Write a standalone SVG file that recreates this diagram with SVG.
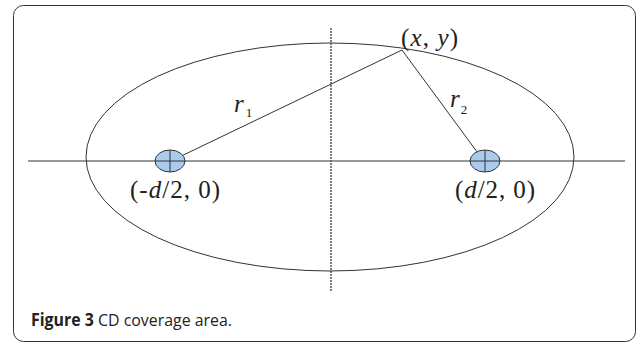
<svg xmlns="http://www.w3.org/2000/svg" width="637" height="342" viewBox="0 0 637 342">
<style>
.ln{stroke:#333;stroke-width:1;fill:none}
.dash{stroke:#555;stroke-width:1.5;stroke-dasharray:2 1;fill:none}
.foc{fill:#aacbeb;stroke:#333;stroke-width:1}
.m{font-family:"Liberation Serif","Times New Roman",serif;font-size:25px;fill:#222}
.i{font-style:italic}
.sub{font-size:13px}
.cap{font-family:"Open Sans","Liberation Sans",sans-serif;font-size:17px;fill:#222}
</style>
<rect x="13.5" y="5.5" width="622" height="336" rx="10" fill="#fff" stroke="#333" stroke-width="1"/>
<g id="axes">
<line class="ln" x1="28" y1="161" x2="625" y2="161"/>
<line class="dash" x1="331" y1="28" x2="331" y2="292"/>
</g>
<g id="ellipse"><ellipse class="ln" cx="330" cy="157" rx="244" ry="114"/></g>
<g id="connectors">
<line class="ln" x1="402" y1="50" x2="173" y2="160"/>
<line class="ln" x1="402" y1="50" x2="483" y2="160"/>
</g>
<g id="left-focus">
<ellipse class="foc" cx="170" cy="161" rx="15" ry="11"/>
<line class="ln" x1="170" y1="150" x2="170" y2="172"/>
<line class="ln" x1="155" y1="161" x2="185" y2="161"/>
<text class="m" x="130" y="198" textLength="90" lengthAdjust="spacing">(-<tspan class="i">d</tspan>/2, 0)</text>
</g>
<g id="right-focus">
<ellipse class="foc" cx="485" cy="161" rx="15" ry="11"/>
<line class="ln" x1="485" y1="150" x2="485" y2="172"/>
<line class="ln" x1="470" y1="161" x2="500" y2="161"/>
<text class="m" x="455" y="198" textLength="80" lengthAdjust="spacing">(<tspan class="i">d</tspan>/2, 0)</text>
</g>
<g id="point">
<text class="m" x="401" y="46" font-size="22" textLength="57" lengthAdjust="spacing">(<tspan class="i">x</tspan>, <tspan class="i">y</tspan>)</text>
</g>
<g id="labels">
<text class="m" x="234" y="112" font-size="24"><tspan class="i">r</tspan><tspan class="sub" dx="2" dy="5">1</tspan></text>
<text class="m" x="450" y="107" font-size="24"><tspan class="i">r</tspan><tspan class="sub" dx="1" dy="7">2</tspan></text>
</g>
<g id="caption">
<text class="cap" x="31" y="326" textLength="201" lengthAdjust="spacingAndGlyphs"><tspan font-weight="bold">Figure 3</tspan> CD coverage area.</text>
</g>
</svg>
